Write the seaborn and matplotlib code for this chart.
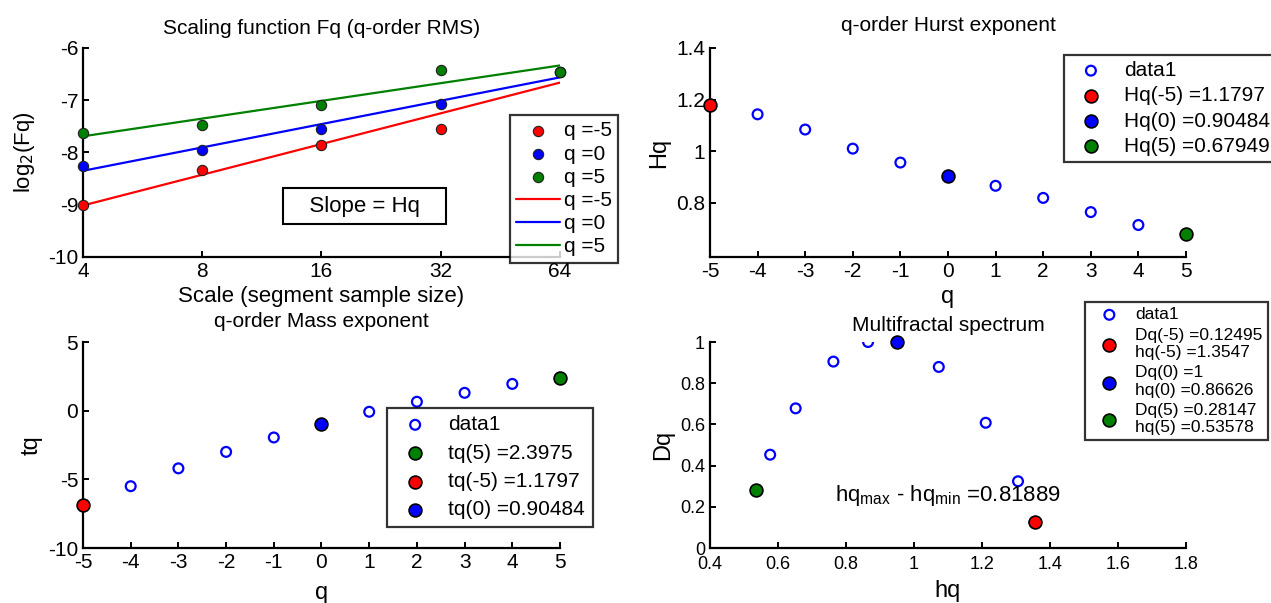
import numpy as np
import pandas as pd
import seaborn as sns
import matplotlib.pyplot as plt

# scaling function data (log2 Fq at each scale)
scales = [4, 8, 16, 32, 64]
fq_m5 = [-9.0, -8.33, -7.86, -7.55, -6.45]
fq_0 = [-8.25, -7.95, -7.55, -7.08, -6.45]
fq_p5 = [-7.62, -7.47, -7.10, -6.42, -6.45]

# q-order Hurst exponent
q = [-5, -4, -3, -2, -1, 0, 1, 2, 3, 4, 5]
hq = [1.1797, 1.143, 1.084, 1.01, 0.956, 0.90484, 0.866, 0.819, 0.764, 0.714, 0.67949]

# mass exponent
tq = [-6.9, -5.5, -4.2, -3.0, -1.95, -1.0, -0.08, 0.65, 1.3, 1.95, 2.3975]

# multifractal spectrum
spec_h = [1.3547, 1.306, 1.211, 1.073, 0.951, 0.865, 0.763, 0.652, 0.577, 0.53578]
spec_d = [0.12495, 0.324, 0.608, 0.879, 1.0, 1.0, 0.905, 0.678, 0.453, 0.28147]

RED = (1, 0, 0)
BLUE = (0, 0, 1)
GREEN = (0, 0.5, 0)

sns.set_style("ticks")
plt.rcParams['font.family'] = ['Liberation Sans', 'DejaVu Sans']
plt.rcParams['axes.unicode_minus'] = False
plt.rcParams['font.size'] = 15
plt.rcParams['text.color'] = 'black'
plt.rcParams['axes.labelcolor'] = 'black'
plt.rcParams['axes.edgecolor'] = 'black'
plt.rcParams['xtick.color'] = 'black'
plt.rcParams['ytick.color'] = 'black'
plt.rcParams['xtick.labelsize'] = 15
plt.rcParams['ytick.labelsize'] = 15
plt.rcParams['axes.linewidth'] = 1.6
plt.rcParams['xtick.direction'] = 'in'
plt.rcParams['ytick.direction'] = 'in'
plt.rcParams['xtick.major.width'] = 1.4
plt.rcParams['ytick.major.width'] = 1.4
plt.rcParams['xtick.major.size'] = 4
plt.rcParams['ytick.major.size'] = 4
plt.rcParams['legend.fontsize'] = 15

fig = plt.figure(figsize=(12.71, 6.03), dpi=100)
ax1 = fig.add_axes([0.0653, 0.5738, 0.3753, 0.3466])
ax2 = fig.add_axes([0.5586, 0.5738, 0.3745, 0.3466])
ax3 = fig.add_axes([0.0653, 0.0912, 0.3753, 0.3416])
ax4 = fig.add_axes([0.5586, 0.0912, 0.3745, 0.3416])

for ax in [ax1, ax2, ax3, ax4]:
    sns.despine(ax=ax)

leg_kw = dict(frameon=True, fancybox=False, edgecolor='black', borderaxespad=0,
              bbox_transform=fig.transFigure, loc='upper left')

# ---- scaling function
x2 = np.log2(scales)
handles = []
for vals, col, lab in [(fq_m5, RED, 'q =-5'), (fq_0, BLUE, 'q =0'), (fq_p5, GREEN, 'q =5')]:
    h = ax1.scatter(scales, vals, s=55, color=col, edgecolor='#202020', linewidth=0.8, zorder=3,
                    label=lab, clip_on=False)
    handles.append(h)
for vals, col, lab in [(fq_m5, RED, 'q =-5'), (fq_0, BLUE, 'q =0'), (fq_p5, GREEN, 'q =5')]:
    p = np.polyfit(x2, vals, 1)
    fit = np.polyval(p, x2)
    l, = ax1.plot(scales, fit, color=col, lw=1.6, label=lab)
    handles.append(l)
ax1.set_xscale('log', base=2)
ax1.set_xticks(scales)
ax1.set_xticklabels([str(s) for s in scales])
ax1.minorticks_off()
ax1.set_xlim(4, 64)
ax1.set_ylim(-10, -6)
ax1.set_yticks([-10, -9, -8, -7, -6])
ax1.set_title('Scaling function Fq (q-order RMS)', fontsize=15, pad=10)
ax1.set_xlabel('Scale (segment sample size)', fontsize=16, labelpad=4)
ax1.set_ylabel(r'log$_2$(Fq)', fontsize=16, labelpad=8)
ax1.text(0.59, 0.243, '   Slope = Hq   ', transform=ax1.transAxes, ha='center', va='center', fontsize=16,
         bbox=dict(boxstyle='square,pad=0.35', fc='white', ec='black', lw=1.5), zorder=5)
leg = ax1.legend(handles=handles, bbox_to_anchor=(0.401, 0.809), handlelength=2.1,
                 labelspacing=0.2, borderpad=0.3, handletextpad=0.2, **leg_kw)
leg.get_frame().set_linewidth(1.6)
leg.set_zorder(10)

# ---- Hurst exponent
df_h = pd.DataFrame({'q': q, 'Hq': hq})
sns.scatterplot(data=df_h, x='q', y='Hq', ax=ax2, marker='o', s=50, facecolor='none',
                edgecolor=BLUE, linewidth=1.6, label='data1')
i_m5, i_0, i_5 = q.index(-5), q.index(0), q.index(5)
ax2.scatter(q[i_m5], hq[i_m5], s=85, color=RED, edgecolor='black', linewidth=1.2, zorder=4, clip_on=False,
            label='Hq(-5) =1.1797')
ax2.scatter(q[i_0], hq[i_0], s=85, color=BLUE, edgecolor='black', linewidth=1.2, zorder=4, clip_on=False,
            label='Hq(0) =0.90484')
ax2.scatter(q[i_5], hq[i_5], s=85, color=GREEN, edgecolor='black', linewidth=1.2, zorder=4, clip_on=False,
            label='Hq(5) =0.67949')
ax2.set_xlim(-5, 5)
ax2.set_xticks(range(-5, 6))
ax2.set_ylim(0.59, 1.4)
ax2.set_yticks([0.8, 1.0, 1.2, 1.4])
ax2.set_yticklabels(['0.8', '1', '1.2', '1.4'])
ax2.set_title('q-order Hurst exponent', fontsize=15, pad=12)
ax2.set_xlabel('q', fontsize=17, labelpad=4)
ax2.set_ylabel('Hq', fontsize=17)
leg = ax2.legend(bbox_to_anchor=(0.837, 0.909), handletextpad=0.6, labelspacing=0.3,
                 borderpad=0.3, **leg_kw)
leg.get_frame().set_linewidth(1.6)

# ---- Mass exponent
df_t = pd.DataFrame({'q': q, 'tq': tq})
sns.scatterplot(data=df_t, x='q', y='tq', ax=ax3, marker='o', s=50, facecolor='none',
                edgecolor=BLUE, linewidth=1.6, label='data1')
ax3.scatter(q[i_5], tq[i_5], s=85, color=GREEN, edgecolor='black', linewidth=1.2, zorder=4, clip_on=False,
            label='tq(5) =2.3975')
ax3.scatter(q[i_m5], tq[i_m5], s=85, color=RED, edgecolor='black', linewidth=1.2, zorder=4, clip_on=False,
            label='tq(-5) =1.1797')
ax3.scatter(q[i_0], tq[i_0], s=85, color=BLUE, edgecolor='black', linewidth=1.2, zorder=4, clip_on=False,
            label='tq(0) =0.90484')
ax3.set_xlim(-5, 5)
ax3.set_xticks(range(-5, 6))
ax3.set_ylim(-10, 5)
ax3.set_yticks([-10, -5, 0, 5])
ax3.set_title('q-order Mass exponent', fontsize=15, pad=11)
ax3.set_xlabel('q', fontsize=17, labelpad=7)
ax3.set_ylabel('tq', fontsize=17)
leg = ax3.legend(bbox_to_anchor=(0.3045, 0.3234), handletextpad=0.6, labelspacing=0.45,
                 borderpad=0.35, **leg_kw)
leg.get_frame().set_linewidth(1.6)

# ---- Multifractal spectrum
df_s = pd.DataFrame({'hq': spec_h, 'Dq': spec_d})
sns.scatterplot(data=df_s, x='hq', y='Dq', ax=ax4, marker='o', s=50, facecolor='none',
                edgecolor=BLUE, linewidth=1.6, label='data1')
ax4.scatter(spec_h[0], spec_d[0], s=85, color=RED, edgecolor='black', linewidth=1.2, zorder=4,
            label='Dq(-5) =0.12495\nhq(-5) =1.3547')
ax4.scatter(spec_h[4], spec_d[4], s=85, color=BLUE, edgecolor='black', linewidth=1.2, zorder=4, clip_on=False,
            label='Dq(0) =1\nhq(0) =0.86626')
ax4.scatter(spec_h[-1], spec_d[-1], s=85, color=GREEN, edgecolor='black', linewidth=1.2, zorder=4,
            label='Dq(5) =0.28147\nhq(5) =0.53578')
ax4.set_xlim(0.4, 1.8)
ax4.set_xticks([0.4, 0.6, 0.8, 1.0, 1.2, 1.4, 1.6, 1.8])
ax4.set_xticklabels(['0.4', '0.6', '0.8', '1', '1.2', '1.4', '1.6', '1.8'])
ax4.set_ylim(0, 1)
ax4.set_yticks([0, 0.2, 0.4, 0.6, 0.8, 1.0])
ax4.set_yticklabels(['0', '0.2', '0.4', '0.6', '0.8', '1'])
ax4.tick_params(labelsize=13)
ax4.tick_params(axis='x', pad=6)
ax4.set_title('Multifractal spectrum', fontsize=15, pad=8)
ax4.set_xlabel('hq', fontsize=17, labelpad=5)
ax4.set_ylabel('Dq', fontsize=17)
ax4.text(0.768, 0.256, r'hq$_{\mathregular{max}}$ - hq$_{\mathregular{min}}$ =0.81889', fontsize=16, va='center')
leg = ax4.legend(bbox_to_anchor=(0.8537, 0.4992), handlelength=2.2, handletextpad=0.4, labelspacing=0.3,
                 borderpad=0.3, fontsize=12.5, **leg_kw)
leg.get_frame().set_linewidth(1.6)

fig.savefig('out.png', dpi=100)
